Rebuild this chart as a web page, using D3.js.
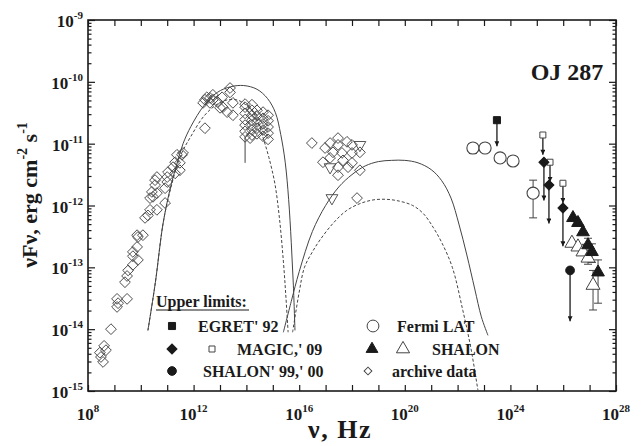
<!DOCTYPE html>
<html><head><meta charset="utf-8">
<script src="https://cdn.jsdelivr.net/npm/d3@7"></script>
<style>body{margin:0;background:#fff}svg{display:block}</style>
</head><body>
<svg id="c" width="643" height="446"></svg>
<script>
// ---- values, as [log10(nu/Hz), log10(nuFnu / erg cm^-2 s^-1)] ----
const xTickExps = d3.range(8, 29);
const xLabelExps = [8, 12, 16, 20, 24, 28];
const yLabelExps = [-15, -14, -13, -12, -11, -10, -9];

const archive = [
 [8.57,-14.53],[8.49,-14.45],[8.68,-14.34],[8.61,-14.27],[8.45,-14.38],[8.87,-14.0],
 [9.10,-13.51],[9.10,-13.64],[9.14,-13.58],[9.48,-13.51],[9.40,-13.24],[9.48,-13.14],
 [9.52,-13.05],[9.70,-12.96],[9.89,-12.88],[9.70,-12.82],[9.70,-12.75],[9.86,-12.67],
 [9.89,-12.51],[10.08,-12.48],[9.86,-12.48],[10.16,-12.20],[10.27,-12.16],[10.35,-12.07],
 [10.61,-12.07],[10.35,-11.88],[10.46,-11.86],[10.42,-11.78],[10.61,-11.80],[10.54,-11.67],
 [10.61,-11.54],[10.54,-11.59],[10.92,-11.96],[10.92,-11.72],[11.0,-11.62],[11.0,-11.54],
 [11.03,-11.46],[11.22,-11.38],[11.30,-11.30],[11.48,-11.31],[11.37,-11.18],[11.56,-11.18],
 [11.30,-11.48],[11.48,-11.43],[11.60,-11.15],
 [12.36,-10.34],[12.43,-10.29],[12.62,-10.26],[12.73,-10.21],[12.50,-10.25],[12.62,-10.34],
 [12.73,-10.29],[12.92,-10.33],[13.08,-10.25],[13.00,-10.42],[13.11,-10.41],[13.27,-10.49],
 [13.38,-10.10],[13.38,-10.17],[13.49,-10.34],[13.49,-10.54],[12.43,-10.75],
 [13.95,-10.36],[13.95,-10.41],[13.95,-10.51],[13.95,-10.61],[13.95,-10.70],[13.95,-10.80],[13.95,-10.89],
 [14.14,-10.91],
 [14.21,-10.37],[14.21,-10.46],[14.21,-10.54],[14.21,-10.62],[14.21,-10.70],[14.21,-10.78],[14.21,-10.86],
 [14.40,-10.46],[14.40,-10.55],[14.40,-10.65],[14.40,-10.75],[14.40,-10.84],
 [14.63,-10.49],[14.63,-10.59],[14.63,-10.68],[14.63,-10.78],[14.63,-10.88],
 [14.82,-10.54],[14.82,-10.63],[14.82,-10.73],[14.82,-10.83],[14.82,-10.93],
 [16.48,-10.99],[16.98,-11.07],[17.17,-10.99],[17.47,-10.91],[17.47,-11.02],[17.81,-10.97],
 [18.00,-11.02],[17.28,-11.14],[17.62,-11.15],[18.00,-11.15],[18.30,-11.14],[16.90,-11.30],
 [17.47,-11.38],[17.85,-11.38],[18.30,-11.43],[17.47,-11.51],[18.00,-11.31],[18.19,-11.88],
 [17.66,-11.27],[17.17,-11.23]
];
const archiveErr = [[13.95,-10.89,-11.31]];          // [nu, value, lower end]
const archiveTriDown = [[18.30,-11.02],[17.17,-11.38],[17.24,-11.88]];

const fermi = [[22.58,-11.07],[23.04,-11.07],[23.61,-11.23],[24.10,-11.28],[24.86,-11.80]];
const fermiErr = [[22.58,-11.0,-11.16],[24.86,-11.59,-12.20]];      // [nu, upper, lower]
const egret = [[23.49,-10.62]];
const magicOpen = [[25.23,-10.86],[25.50,-11.30],[25.99,-11.64]];
const magicFilled = [[25.27,-11.30],[25.46,-11.67],[25.99,-12.04]];
const shalonFilled = [[26.37,-12.20],[26.56,-12.28],[26.75,-12.43],[26.94,-12.64],[27.09,-12.75],[27.32,-13.08]];
const shalonOpen = [[26.33,-12.61],[26.56,-12.67],[26.75,-12.75],[26.94,-12.85],[27.13,-13.29]];
const shalonErr = [[26.94,-12.53,-12.76],[27.09,-12.62,-12.92],[27.32,-12.88,-13.58],[27.13,-13.05,-13.69],[26.94,-12.78,-12.95]];
const shalon99 = [[26.26,-13.05]];
// upper-limit arrow lengths (dex)
const ulLen = {egret:0.42, magicOpen:0.32, magicFilled:0.62, shalon99:0.82};

const synSolid = [[10.27,-14.02],[10.55,-13.25],[10.84,-12.3],[11.1,-11.75],[11.35,-11.35],[11.6,-11.0],
 [11.9,-10.72],[12.4,-10.38],[12.9,-10.17],[13.4,-10.08],[13.9,-10.06],[14.4,-10.12],[14.8,-10.27],
 [15.1,-10.5],[15.3,-10.85],[15.47,-11.3],[15.6,-11.9],[15.7,-12.6],[15.78,-13.3],[15.84,-14.02]];
const synDashed = [[10.27,-14.02],[10.55,-13.25],[10.84,-12.3],[11.1,-11.78],[11.5,-11.2],[11.9,-10.88],
 [12.4,-10.55],[12.9,-10.36],[13.3,-10.29],[13.7,-10.30],[14.1,-10.42],[14.4,-10.6],[14.63,-10.9],
 [14.85,-11.22],[15.08,-11.65],[15.25,-12.2],[15.4,-12.9],[15.5,-13.5],[15.58,-14.05]];
const icSolid = [[15.4,-14.05],[15.7,-13.55],[16.0,-13.07],[16.5,-12.42],[17.0,-12.0],[17.5,-11.7],
 [18.0,-11.5],[18.5,-11.36],[19.0,-11.29],[19.5,-11.27],[20.0,-11.27],[20.5,-11.31],[21.0,-11.42],
 [21.4,-11.6],[21.75,-11.88],[22.05,-12.3],[22.35,-12.8],[22.65,-13.35],[22.9,-13.8],[23.15,-14.1]];
const icDashed = [[15.75,-14.05],[16.0,-13.4],[16.2,-13.0],[16.5,-12.75],[16.8,-12.55],[17.3,-12.28],
 [17.8,-12.08],[18.3,-11.97],[18.8,-11.91],[19.3,-11.9],[19.8,-11.93],[20.3,-12.0],[20.7,-12.13],
 [21.07,-12.35],[21.4,-12.6],[21.8,-13.0],[22.2,-13.7],[22.5,-14.3],[22.77,-14.99]];

const legendLabels = ["Upper limits:", "EGRET' 92", "MAGIC,' 09", "SHALON' 99,' 00", "Fermi LAT", "SHALON", "archive data"];
const title = "OJ 287";

// ---- drawing ----
const L = 88, R = 616, T = 20, B = 391;
const svg = d3.select("#c");
const x = d3.scaleLog().domain([1e8, 1e28]).range([L, R]);
const y = d3.scaleLog().domain([1e-15, 1e-9]).range([B, T]);
const px = d => x(10 ** d[0]), py = v => y(10 ** v);
const serif = "'Liberation Serif','DejaVu Serif',serif";
const ink = "#1a1a1a", gray = "#444";

const defs = svg.append("defs");
defs.append("clipPath").attr("id","clip").append("rect").attr("x",L).attr("y",T).attr("width",R-L).attr("height",B-T);
defs.append("marker").attr("id","ah").attr("viewBox","0 0 10 10").attr("refX",5).attr("refY",10)
  .attr("markerWidth",5).attr("markerHeight",8).attr("markerUnits","userSpaceOnUse").attr("orient","0")
  .append("path").attr("d","M0,0 L10,0 L5,10 Z").attr("fill",ink);

// axes ticks
const xt = xTickExps.map(e => 10 ** e);
svg.append("g").attr("transform",`translate(0,${B})`)
  .call(d3.axisBottom(x).tickValues(xt).tickFormat("").tickSizeInner(-6).tickSizeOuter(0));
svg.append("g").attr("transform",`translate(0,${T})`)
  .call(d3.axisTop(x).tickValues(xt).tickFormat("").tickSizeInner(-6).tickSizeOuter(0));
const yMaj = d3.range(-15, -8).map(e => 10 ** e);
const yMin = [];
for (let e = -15; e < -9; e++) for (let m = 2; m <= 9; m++) yMin.push(m * 10 ** e);
svg.append("g").attr("transform",`translate(${L},0)`).call(d3.axisLeft(y).tickValues(yMaj).tickFormat("").tickSizeInner(-7).tickSizeOuter(0));
svg.append("g").attr("transform",`translate(${L},0)`).call(d3.axisLeft(y).tickValues(yMin).tickFormat("").tickSizeInner(-3.5).tickSizeOuter(0));
svg.append("g").attr("transform",`translate(${R},0)`).call(d3.axisRight(y).tickValues(yMaj).tickFormat("").tickSizeInner(-7).tickSizeOuter(0));
svg.append("g").attr("transform",`translate(${R},0)`).call(d3.axisRight(y).tickValues(yMin).tickFormat("").tickSizeInner(-3.5).tickSizeOuter(0));
svg.selectAll(".domain").remove();
svg.selectAll(".tick line").attr("stroke",ink).attr("stroke-width",1.2);
svg.append("rect").attr("x",L).attr("y",T).attr("width",R-L).attr("height",B-T)
  .attr("fill","none").attr("stroke",ink).attr("stroke-width",1.6);

// tick labels
xLabelExps.forEach(e => {
  const t = svg.append("text").attr("x", x(10 ** e)).attr("y", 420).attr("text-anchor","middle")
    .attr("font-family",serif).attr("font-weight","bold").attr("font-size",17).attr("fill",ink);
  t.append("tspan").text("10");
  t.append("tspan").attr("dy",-8).attr("font-size",11).text(e);
});
yLabelExps.forEach(e => {
  const t = svg.append("text").attr("x", 83).attr("y", y(10 ** e) + 7).attr("text-anchor","end")
    .attr("font-family",serif).attr("font-weight","bold").attr("font-size",17).attr("fill",ink);
  t.append("tspan").text("10");
  t.append("tspan").attr("dy",-8).attr("font-size",11).text(e);
});

// axis titles
svg.append("text").attr("x",340).attr("y",438).attr("text-anchor","middle").attr("letter-spacing",1.5)
  .attr("font-family",serif).attr("font-weight","bold").attr("font-size",26).attr("fill",ink).text("ν, Hz");
const yt = svg.append("text").attr("transform","translate(37,195) rotate(-90)").attr("text-anchor","middle")
  .attr("font-family",serif).attr("font-weight","bold").attr("font-size",22).attr("fill",ink);
yt.append("tspan").text("νFν, erg cm");
yt.append("tspan").attr("dy",-10).attr("font-size",14).text("-2");
yt.append("tspan").attr("dy",10).text(" s");
yt.append("tspan").attr("dy",-10).attr("font-size",14).text("-1");
svg.append("text").attr("x",567).attr("y",80).attr("text-anchor","middle")
  .attr("font-family",serif).attr("font-weight","bold").attr("font-size",24).attr("fill",ink).text(title);

// model curves
const plot = svg.append("g").attr("clip-path","url(#clip)");
const line = d3.line().x(px).y(d => py(d[1])).curve(d3.curveCatmullRom.alpha(0.5));
[[synSolid,null],[icSolid,null],[synDashed,"3,2"],[icDashed,"3,2"]].forEach(([d,dash]) => {
  plot.append("path").datum(d).attr("d",line).attr("fill","none").attr("stroke","#444")
    .attr("stroke-width",1).attr("stroke-dasharray",dash);
});

// symbols
const sym = (type, size) => d3.symbol().type(type).size(size)();
function pts(data, type, size, fill, stroke, rot = 0, sw = 1) {
  plot.append("g").selectAll("path").data(data).join("path")
    .attr("transform", d => `translate(${px(d)},${py(d[1])}) rotate(${rot})`)
    .attr("d", sym(type, size)).attr("fill", fill).attr("stroke", stroke).attr("stroke-width", sw);
}
function errs(data, cap) {
  plot.append("g").selectAll("path").data(data).join("path")
    .attr("d", d => { const X = px(d), a = py(d[1]), b = py(d[2]);
      return `M${X},${a}V${b}M${X-cap},${a}H${X+cap}M${X-cap},${b}H${X+cap}`; })
    .attr("stroke", gray).attr("stroke-width",1).attr("fill","none");
}
function arrows(data, len) {
  plot.append("g").selectAll("line").data(data).join("line")
    .attr("x1", px).attr("x2", px).attr("y1", d => py(d[1])).attr("y2", d => py(d[1] - len))
    .attr("stroke", ink).attr("stroke-width",1.3).attr("marker-end","url(#ah)");
}

plot.append("g").selectAll("path").data(archiveErr).join("path")
  .attr("d", d => `M${px(d)},${py(d[1])}V${py(d[2])}`).attr("stroke",gray).attr("stroke-width",1);
pts(archive, d3.symbolSquare, 58, "none", gray, 45, 0.9);
pts(archiveTriDown, d3.symbolTriangle, 60, "none", gray, 180, 0.9);

errs(fermiErr, 4);
errs(shalonErr, 4);
arrows(egret, ulLen.egret);
arrows(magicOpen, ulLen.magicOpen);
arrows(magicFilled, ulLen.magicFilled);
arrows(shalon99, ulLen.shalon99);
pts(fermi, d3.symbolCircle, 115, "#fff", gray, 0, 1.1);
pts(egret, d3.symbolSquare, 50, ink, ink);
pts(magicOpen, d3.symbolSquare, 36, "#fff", gray, 0, 1);
pts(magicFilled, d3.symbolSquare, 50, ink, ink, 45);
pts(shalonOpen, d3.symbolTriangle, 85, "#fff", gray, 0, 1);
pts(shalonFilled, d3.symbolTriangle, 70, ink, ink);
pts(shalon99, d3.symbolCircle, 60, ink, ink);

// legend
const lg = svg.append("g").attr("font-family",serif).attr("font-weight","bold").attr("fill",ink);
lg.append("text").attr("x",156).attr("y",307).attr("font-size",16).text(legendLabels[0]);
lg.append("line").attr("x1",156).attr("x2",249).attr("y1",310).attr("y2",310).attr("stroke",ink).attr("stroke-width",1.2);
const rows = [326, 349, 371];
const lsym = (cx, cy, type, size, fill, stroke, rot = 0) => lg.append("path")
  .attr("transform",`translate(${cx},${cy}) rotate(${rot})`).attr("d",sym(type,size))
  .attr("fill",fill).attr("stroke",stroke).attr("stroke-width",1);
const ltxt = (tx, cy, s) => lg.append("text").attr("x",tx).attr("y",cy+6).attr("font-size",16).text(s);
lsym(172, rows[0], d3.symbolSquare, 50, ink, ink);           ltxt(198, rows[0], legendLabels[1]);
lsym(172, rows[1], d3.symbolSquare, 50, ink, ink, 45);
lsym(212, rows[1], d3.symbolSquare, 36, "#fff", gray);       ltxt(237, rows[1], legendLabels[2]);
lsym(172, rows[2], d3.symbolCircle, 60, ink, ink);           ltxt(203, rows[2], legendLabels[3]);
lsym(373, rows[0], d3.symbolCircle, 110, "#fff", gray);      ltxt(397, rows[0], legendLabels[4]);
lsym(372, rows[1], d3.symbolTriangle, 60, ink, ink);
lsym(403, rows[1], d3.symbolTriangle, 75, "#fff", gray);     ltxt(432, rows[1], legendLabels[5]);
lsym(368, rows[2], d3.symbolSquare, 30, "#fff", gray, 45);   ltxt(392, rows[2], legendLabels[6]);
</script>
</body></html>
